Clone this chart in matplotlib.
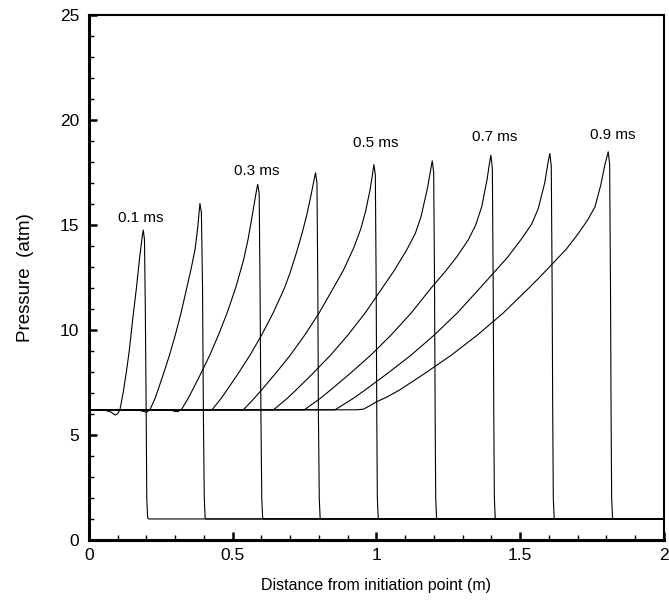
import matplotlib
matplotlib.use("Agg")
import matplotlib.pyplot as plt
from matplotlib.ticker import MultipleLocator

plt.rcParams['font.family'] = ['Liberation Sans', 'DejaVu Sans']

# pressure profiles, one pair of lists per time
x_01 = [0.0, 0.05, 0.075, 0.092, 0.100, 0.108, 0.12, 0.13, 0.14, 0.152, 0.165, 0.175, 0.182, 0.186, 0.189,
        0.193, 0.196, 0.199, 0.201, 0.204, 0.208, 2.0]
p_01 = [6.2, 6.2, 6.1, 5.95, 6.02, 6.22, 7.1, 8.0, 9.0, 10.5, 12.0, 13.3, 14.1, 14.55, 14.76,
        14.3, 11.0, 6.0, 2.0, 1.05, 1.0, 1.0]

x_02 = [0.0, 0.17, 0.19, 0.2, 0.212, 0.23, 0.24, 0.26, 0.28, 0.30, 0.32, 0.34, 0.355, 0.369, 0.378, 0.383,
        0.386, 0.391, 0.395, 0.398, 0.401, 0.404, 0.408, 2.0]
p_02 = [6.2, 6.2, 6.12, 6.08, 6.2, 6.75, 7.14, 7.95, 8.8, 9.75, 10.8, 12.0, 12.9, 13.85, 14.85, 15.6,
        16.03, 15.6, 12.0, 6.0, 2.0, 1.05, 1.0, 1.0]

x_03 = [0.0, 0.28, 0.3, 0.31, 0.322, 0.345, 0.36, 0.39, 0.42, 0.45, 0.48, 0.51, 0.537, 0.553, 0.566, 0.577,
        0.584, 0.587, 0.592, 0.595, 0.598, 0.601, 0.604, 0.608, 2.0]
p_03 = [6.2, 6.2, 6.12, 6.12, 6.22, 6.75, 7.14, 7.95, 8.8, 9.75, 10.8, 12.0, 13.3, 14.3, 15.3, 16.2,
        16.75, 16.94, 16.5, 12.0, 6.0, 2.0, 1.05, 1.0, 1.0]

x_04 = [0.0, 0.428, 0.46, 0.48, 0.52, 0.56, 0.6, 0.64, 0.68, 0.70, 0.722, 0.742, 0.757, 0.772, 0.782, 0.788,
        0.793, 0.796, 0.798, 0.801, 0.804, 0.808, 2.0]
p_04 = [6.2, 6.2, 6.75, 7.14, 7.95, 8.8, 9.75, 10.8, 12.0, 12.75, 13.7, 14.65, 15.45, 16.4, 17.1, 17.49,
        17.0, 12.0, 6.0, 2.0, 1.05, 1.0, 1.0]

x_05 = [0.0, 0.537, 0.575, 0.6, 0.65, 0.7, 0.75, 0.8, 0.85, 0.885, 0.922, 0.945, 0.962, 0.978, 0.986, 0.991,
        0.996, 0.999, 1.001, 1.003, 1.006, 1.01, 2.0]
p_05 = [6.2, 6.2, 6.75, 7.14, 7.95, 8.8, 9.75, 10.8, 12.0, 12.85, 13.95, 14.8, 15.65, 16.7, 17.4, 17.88,
        17.4, 12.0, 6.0, 2.0, 1.05, 1.0, 1.0]

x_06 = [0.0, 0.642, 0.69, 0.72, 0.78, 0.84, 0.9, 0.96, 1.02, 1.06, 1.105, 1.135, 1.155, 1.178, 1.188, 1.194,
        1.199, 1.202, 1.204, 1.206, 1.209, 1.213, 2.0]
p_06 = [6.2, 6.2, 6.75, 7.14, 7.95, 8.8, 9.75, 10.8, 12.0, 12.8, 13.81, 14.6, 15.4, 16.8, 17.6, 18.06,
        17.5, 12.0, 6.0, 2.0, 1.05, 1.0, 1.0]

x_07 = [0.0, 0.749, 0.805, 0.84, 0.91, 0.98, 1.05, 1.12, 1.19, 1.24, 1.28, 1.319, 1.345, 1.366, 1.385, 1.392,
        1.398, 1.403, 1.406, 1.408, 1.41, 1.413, 1.417, 2.0]
p_07 = [6.2, 6.2, 6.75, 7.14, 7.95, 8.8, 9.75, 10.8, 12.0, 12.8, 13.5, 14.29, 15.0, 15.87, 17.2, 17.85,
        18.33, 17.7, 12.0, 6.0, 2.0, 1.05, 1.0, 1.0]

x_08 = [0.0, 0.856, 0.92, 0.96, 1.04, 1.12, 1.2, 1.28, 1.36, 1.406, 1.455, 1.505, 1.54, 1.563, 1.585, 1.597,
        1.603, 1.608, 1.611, 1.613, 1.615, 1.618, 1.622, 2.0]
p_08 = [6.2, 6.2, 6.75, 7.14, 7.95, 8.8, 9.75, 10.8, 12.0, 12.7, 13.45, 14.35, 15.05, 15.8, 17.0, 18.0,
        18.41, 17.8, 12.0, 6.0, 2.0, 1.05, 1.0, 1.0]

x_09 = [0.0, 0.93, 0.955, 0.975, 1.0, 1.035, 1.08, 1.17, 1.26, 1.35, 1.44, 1.53, 1.57, 1.615, 1.66, 1.702,
        1.735, 1.76, 1.78, 1.795, 1.806, 1.811, 1.814, 1.816, 1.818, 1.821, 1.825, 2.0]
p_09 = [6.2, 6.2, 6.23, 6.38, 6.58, 6.8, 7.14, 7.95, 8.8, 9.75, 10.8, 12.0, 12.55, 13.2, 13.85, 14.6,
        15.25, 15.87, 16.9, 17.9, 18.49, 17.9, 12.0, 6.0, 2.0, 1.05, 1.0, 1.0]

profiles = [(x_01, p_01), (x_02, p_02), (x_03, p_03), (x_04, p_04), (x_05, p_05),
            (x_06, p_06), (x_07, p_07), (x_08, p_08), (x_09, p_09)]

label_text = ['0.1 ms', '0.3 ms', '0.5 ms', '0.7 ms', '0.9 ms']
label_x = [0.18, 0.584, 0.998, 1.41, 1.821]
label_y = [15.35, 17.59, 18.89, 19.2, 19.29]

fig = plt.figure(figsize=(6.69, 6.06), dpi=100)
ax = fig.add_axes([0.133, 0.109, 0.8595, 0.866])

for xs, ps in profiles:
    ax.plot(xs, ps, color='black', lw=0.8)

for t, tx, ty in zip(label_text, label_x, label_y):
    ax.text(tx, ty, t, fontsize=11, ha='center', va='center')

ax.set_xlim(0, 2)
ax.set_ylim(0, 25)
ax.xaxis.set_major_locator(MultipleLocator(0.5))
ax.xaxis.set_minor_locator(MultipleLocator(0.1))
ax.yaxis.set_major_locator(MultipleLocator(5))
ax.yaxis.set_minor_locator(MultipleLocator(1))
ax.set_xticks([0, 0.5, 1, 1.5, 2])
ax.set_xticklabels(['0', '0.5', '1', '1.5', '2'])
ax.tick_params(which='major', direction='in', length=6, width=1.8, labelsize=12.5,
               top=False, right=False)
ax.tick_params(axis='x', which='major', pad=5.5)
ax.tick_params(axis='y', which='major', pad=7)
ax.tick_params(which='minor', direction='in', length=3.5, width=1.0, top=False, right=False)

for side in ['left', 'bottom']:
    ax.spines[side].set_linewidth(2.2)
for side in ['top', 'right']:
    ax.spines[side].set_linewidth(1.5)

ax.set_xlabel('Distance from initiation point (m)', fontsize=11.5, va='center')
ax.set_ylabel('Pressure  (atm)', fontsize=13.5, va='center')
ax.xaxis.set_label_coords(0.5, -0.086)
ax.yaxis.set_label_coords(-0.111, 0.5)

fig.savefig('out.png', dpi=100)
